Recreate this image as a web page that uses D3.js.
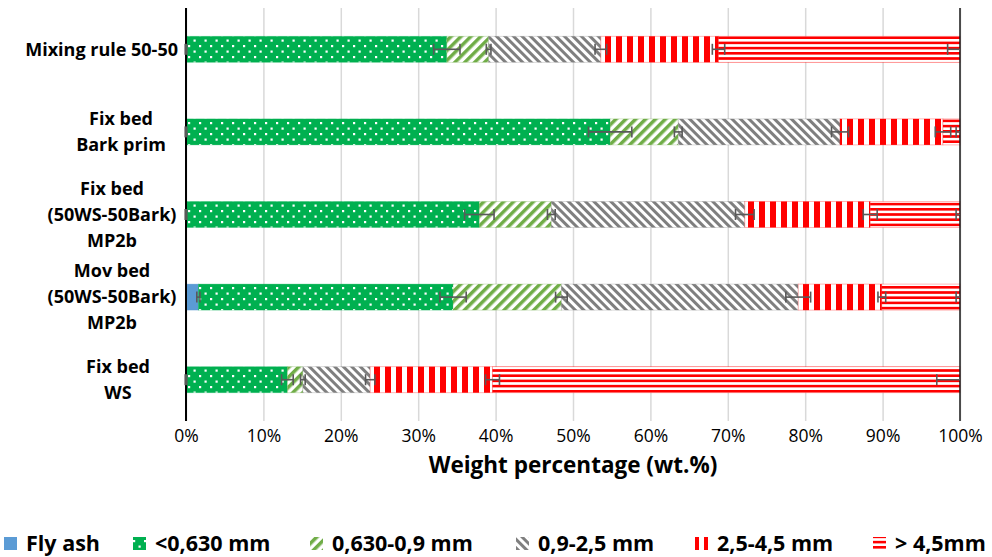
<!DOCTYPE html>
<html>
<head>
<meta charset="utf-8">
<script src="https://cdn.jsdelivr.net/npm/d3@7"></script>
<style>
  body { margin: 0; background: #fff; }
  text { font-family: "Open Sans", Lato, sans-serif; fill: #000; }
</style>
</head>
<body>
<svg id="chart" width="992" height="557"></svg>
<script>
// categories, top to bottom (each entry is the lines of the label)
const categories = [
  ["Mixing rule 50-50"],
  ["Fix bed", "Bark prim"],
  ["Fix bed", "(50WS-50Bark)", "MP2b"],
  ["Mov bed", "(50WS-50Bark)", "MP2b"],
  ["Fix bed", "WS"]
];
const seriesNames = ["Fly ash", "<0,630 mm", "0,630-0,9 mm", "0,9-2,5 mm", "2,5-4,5 mm", "> 4,5mm"];

// wt.% per fraction, same order as categories
const flyAsh   = [0, 0, 0, 1.6, 0];
const below630 = [33.7, 54.8, 37.9, 32.9, 13.1];
const s630to09 = [5.4, 8.8, 9.3, 14.0, 2.0];
const s09to25  = [14.5, 20.9, 25.0, 30.6, 8.7];
const s25to45  = [15.2, 13.3, 16.2, 10.8, 15.8];
const above45  = [31.2, 2.2, 11.6, 10.1, 60.4];

// error bar half widths (wt.%)
const errFlyAsh   = [0.1, 0.1, 0.1, 0.2, 0.1];
const errBelow630 = [1.7, 2.8, 1.9, 1.7, 0.75];
const err630to09  = [0.3, 0.5, 0.5, 0.75, 0.3];
const err09to25   = [0.75, 1.1, 1.2, 1.6, 0.6];
const err25to45   = [0.8, 1.0, 0.9, 0.5, 0.9];
const errAbove45  = [1.6, 0.5, 0.5, 0.5, 3.0];

const xTicks = [0, 10, 20, 30, 40, 50, 60, 70, 80, 90, 100];

const seriesValues = [flyAsh, below630, s630to09, s09to25, s25to45, above45];
const seriesErrors = [errFlyAsh, errBelow630, err630to09, err09to25, err25to45, errAbove45];
const fills = ["#5b9bd5", "url(#pDots)", "url(#pLightDiag)", "url(#pGrayDiag)", "url(#pRedVert)", "url(#pRedHoriz)"];
const edges = ["#5b9bd5", "#00b050", "#70ad47", "#7f7f7f", "#ff0000", "#ff0000"];

const plot = { left: 186, right: 960, top: 8, bottom: 421 };
const labelCenters = [null, 121, 112, 112, 118];

const svg = d3.select("#chart");
const defs = svg.append("defs");

// pattern fills
const dots = defs.append("pattern").attr("id", "pDots")
  .attr("patternUnits", "userSpaceOnUse").attr("width", 11).attr("height", 11);
dots.append("rect").attr("width", 11).attr("height", 11).attr("fill", "#00b050");
dots.append("rect").attr("x", 1).attr("y", 1).attr("width", 2.2).attr("height", 2.2).attr("fill", "#fff");
dots.append("rect").attr("x", 6.5).attr("y", 6.5).attr("width", 2.2).attr("height", 2.2).attr("fill", "#fff");

const lightDiag = defs.append("pattern").attr("id", "pLightDiag")
  .attr("patternUnits", "userSpaceOnUse").attr("width", 7).attr("height", 7)
  .attr("patternTransform", "rotate(45)");
lightDiag.append("rect").attr("width", 7).attr("height", 7).attr("fill", "#fff");
lightDiag.append("rect").attr("width", 3.5).attr("height", 7).attr("fill", "#70ad47");

const grayDiag = defs.append("pattern").attr("id", "pGrayDiag")
  .attr("patternUnits", "userSpaceOnUse").attr("width", 6).attr("height", 6)
  .attr("patternTransform", "rotate(-45)");
grayDiag.append("rect").attr("width", 6).attr("height", 6).attr("fill", "#fff");
grayDiag.append("rect").attr("width", 3).attr("height", 6).attr("fill", "#7f7f7f");

const redVert = defs.append("pattern").attr("id", "pRedVert")
  .attr("patternUnits", "userSpaceOnUse").attr("width", 11).attr("height", 11);
redVert.append("rect").attr("width", 11).attr("height", 11).attr("fill", "#fff");
redVert.append("rect").attr("width", 6).attr("height", 11).attr("fill", "#ff0000");

const redHoriz = defs.append("pattern").attr("id", "pRedHoriz")
  .attr("patternUnits", "userSpaceOnUse").attr("width", 10).attr("height", 5.2);
redHoriz.append("rect").attr("width", 10).attr("height", 5.2).attr("fill", "#fff");
redHoriz.append("rect").attr("width", 10).attr("height", 2.6).attr("fill", "#ff0000");

defs.append("clipPath").attr("id", "plotClip")
  .append("rect")
  .attr("x", plot.left - 3).attr("y", plot.top)
  .attr("width", plot.right - plot.left + 3).attr("height", plot.bottom - plot.top);

const x = d3.scaleLinear().domain([0, 100]).range([plot.left, plot.right]);
const y = d3.scaleBand().domain(d3.range(categories.length))
  .range([plot.top, plot.bottom]).paddingInner(0.685).paddingOuter(0.3425);

// gridlines + tick labels
const xAxis = svg.append("g")
  .attr("transform", `translate(0,${plot.bottom})`)
  .call(d3.axisBottom(x).tickValues(xTicks).tickFormat(d => d + "%")
    .tickSize(-(plot.bottom - plot.top)).tickPadding(9));
xAxis.select(".domain").remove();
xAxis.selectAll(".tick line").attr("stroke", "#d9d9d9").attr("stroke-width", 1.5);
xAxis.selectAll(".tick text")
  .style("font-family", "'Open Sans', Lato, sans-serif")
  .style("font-size", "17.5px").attr("fill", "#000");

// stacked bars
const stackRows = categories.map((c, i) => {
  let acc = 0;
  return seriesValues.map((vals, s) => {
    const start = acc;
    acc += vals[i];
    return { row: i, s, x0: start, x1: acc, err: seriesErrors[s][i] };
  });
});

const bars = svg.append("g");
stackRows.forEach(row => {
  bars.selectAll(null)
    .data(row.filter(d => d.x1 > d.x0))
    .join("rect")
    .attr("x", d => x(d.x0))
    .attr("y", d => y(d.row))
    .attr("width", d => x(d.x1) - x(d.x0))
    .attr("height", y.bandwidth())
    .attr("fill", d => fills[d.s])
    .attr("stroke", d => edges[d.s])
    .attr("stroke-opacity", 0.35)
    .attr("stroke-width", 0.8);
});

// axes lines at 0% and 100%
svg.append("line")
  .attr("x1", x(0)).attr("x2", x(0)).attr("y1", plot.top).attr("y2", plot.bottom)
  .attr("stroke", "#000").attr("stroke-width", 2);
svg.append("line")
  .attr("x1", x(100)).attr("x2", x(100)).attr("y1", plot.top).attr("y2", plot.bottom)
  .attr("stroke", "#1a1a1a").attr("stroke-width", 1.5);

// error bars at the end of each segment
const errG = svg.append("g").attr("clip-path", "url(#plotClip)")
  .attr("stroke", "#595959").attr("stroke-width", 1.6);
stackRows.flat().forEach(d => {
  const cy = y(d.row) + y.bandwidth() / 2;
  const xa = x(d.x1 - d.err), xb = x(d.x1 + d.err);
  errG.append("line").attr("x1", xa).attr("x2", xb).attr("y1", cy).attr("y2", cy);
  [xa, xb].forEach(cx => {
    errG.append("line").attr("x1", cx).attr("x2", cx).attr("y1", cy - 5.5).attr("y2", cy + 5.5);
  });
});

// category labels
categories.forEach((lines, i) => {
  const cy = y(i) + y.bandwidth() / 2;
  const lh = 26;
  const t = svg.append("text")
    .attr("font-size", 18).attr("font-weight", "bold")
    .attr("text-anchor", labelCenters[i] === null ? "end" : "middle");
  lines.forEach((ln, k) => {
    t.append("tspan")
      .attr("x", labelCenters[i] === null ? 178 : labelCenters[i])
      .attr("y", cy + (k - (lines.length - 1) / 2) * lh)
      .attr("dy", "0.35em")
      .text(ln);
  });
});

// axis title
svg.append("text")
  .attr("x", 573).attr("y", 473)
  .attr("text-anchor", "middle")
  .attr("font-size", 22.5).attr("font-weight", "bold")
  .text("Weight percentage (wt.%)");

// legend
const legendX = [4, 133, 310, 516, 695, 873];
const legend = svg.append("g");
seriesNames.forEach((name, s) => {
  legend.append("rect")
    .attr("x", legendX[s]).attr("y", 537)
    .attr("width", 13).attr("height", 13)
    .attr("fill", fills[s]);
  legend.append("text")
    .attr("x", legendX[s] + 22).attr("y", 551)
    .attr("font-size", 21.5).attr("font-weight", "bold")
    .text(name);
});
</script>
</body>
</html>
